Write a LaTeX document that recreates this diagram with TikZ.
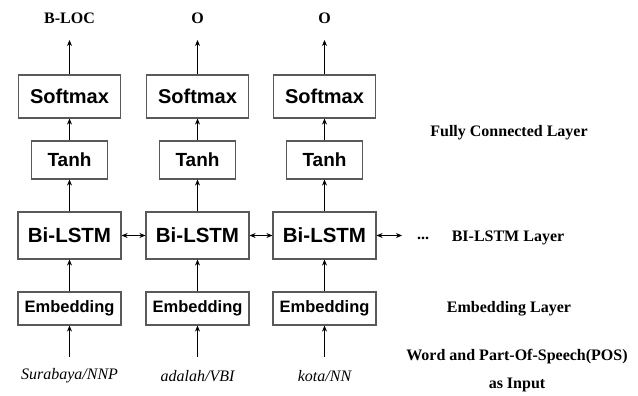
\documentclass[tikz,border=0pt]{standalone}
\usepackage{fontspec}
\setmainfont{Liberation Serif}
\newfontfamily\boxfont{Liberation Sans}
\usetikzlibrary{arrows.meta}
\begin{document}
\begin{tikzpicture}[x=1pt,y=-1pt,
  layerbox/.style={draw=black!65,line width=1.2pt,inner sep=0pt,font=\boxfont\bfseries},
  smbox/.style={layerbox,minimum width=102pt,minimum height=43pt,font=\boxfont\bfseries\fontsize{20}{22}\selectfont},
  thbox/.style={layerbox,minimum width=76pt,minimum height=38pt,font=\boxfont\bfseries\fontsize{19}{21}\selectfont},
  lsbox/.style={layerbox,minimum width=103pt,minimum height=47pt,font=\boxfont\bfseries\fontsize{20.5}{22}\selectfont},
  embox/.style={layerbox,minimum width=103pt,minimum height=33pt,font=\boxfont\bfseries\fontsize{16.5}{18}\selectfont},
  lbl/.style={inner sep=0pt,font=\bfseries\fontsize{16}{18}\selectfont},
  inlbl/.style={inner sep=0pt,font=\itshape\fontsize{16}{18}\selectfont},
  arr/.style={-{Stealth[length=6pt,width=5pt]},line width=0.8pt,black},
  darr/.style={{Stealth[length=6pt,width=5pt]}-{Stealth[length=6pt,width=5pt]},line width=0.8pt,black}]
\useasboundingbox (0,0) rectangle (638,396);
\foreach \i/\x/\out/\inp in {1/69.5/B-LOC/Surabaya\slash NNP,2/197.5/O/adalah\slash VBI,3/324.5/O/kota\slash NN}{
  \node[smbox] (sm\i) at (\x,96.5) {Softmax};
  \node[thbox] (th\i) at (\x,160) {Tanh};
  \node[lsbox] (ls\i) at (\x,235.5) {Bi-LSTM};
  \node[embox] (em\i) at (\x,308.5) {Embedding};
  \node[lbl] (out\i) at (\x,18) {\out};
  \node[inlbl] (in\i) at (\x,376) {\inp};
  \coordinate (top\i) at (\x,40);
  \coordinate (bot\i) at (\x,357);
  \draw[arr] (sm\i.north) -- (top\i);
  \draw[arr] (th\i.north) -- (sm\i.south);
  \draw[arr] (ls\i.north) -- (th\i.south);
  \draw[arr] (em\i.north) -- (ls\i.south);
  \draw[arr] (bot\i) -- (em\i.south);
}
\draw[darr] (ls1.east) -- (ls2.west);
\draw[darr] (ls2.east) -- (ls3.west);
\coordinate (rend) at (402,235.5);
\draw[darr] (ls3.east) -- (rend);
\node[lbl] (dots) at (423,238) {...};
\node[lbl] (lstml) at (508,238) {BI-LSTM Layer};
\node[lbl] (fcl) at (509,133) {Fully Connected Layer};
\node[lbl] (eml) at (509,309) {Embedding Layer};
\node[lbl] (wl) at (517,357) {Word and Part-Of-Speech(POS)};
\node[lbl] (wl2) at (517,385) {as Input};
\end{tikzpicture}
\end{document}
